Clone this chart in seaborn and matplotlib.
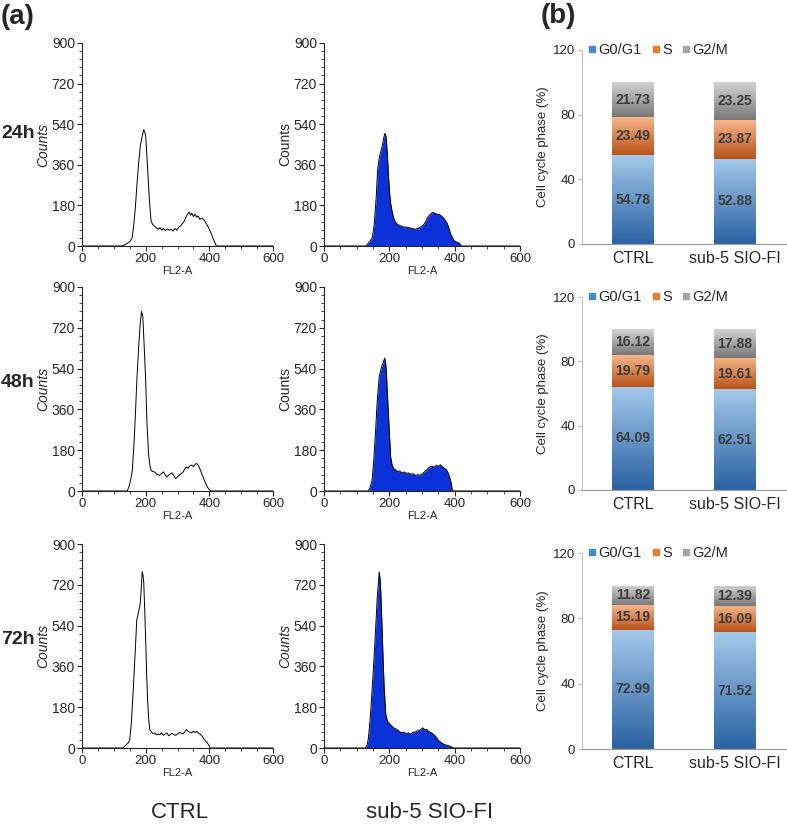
import numpy as np
import matplotlib
matplotlib.use("Agg")
import matplotlib.pyplot as plt
import seaborn as sns
from matplotlib.colors import LinearSegmentedColormap
from matplotlib.ticker import MultipleLocator
from matplotlib.lines import Line2D

# ---- flow cytometry histograms (FL2-A channel vs counts) ----
ctrl_24_x = [0, 125, 135, 145, 152, 158, 163, 167, 172, 178, 183, 188, 192, 194, 197, 200, 203, 207, 211, 214,
             217, 222, 228, 234, 239, 245, 250, 256, 262, 268, 274, 280, 286, 292, 298, 304, 310, 316, 322, 328,
             333, 337, 341, 345, 350, 355, 360, 365, 370, 375, 380, 385, 390, 395, 400, 405, 410, 415, 422, 600]
ctrl_24_y = [0, 0, 6, 14, 22, 40, 100, 160, 260, 369, 442, 480, 505, 516, 505, 490, 420, 320, 221, 160,
             111, 95, 88, 80, 74, 82, 70, 78, 68, 76, 70, 74, 66, 78, 70, 84, 90, 100, 112, 133,
             145, 150, 136, 146, 130, 142, 128, 133, 118, 122, 120, 112, 100, 88, 74, 58, 40, 22, 0, 0]

sio_24_x = [0, 128, 133, 140, 148, 154, 160, 164, 168, 172, 175, 179, 183, 186, 189, 191, 194, 197, 201, 204,
            208, 213, 219, 226, 235, 242, 250, 257, 264, 272, 279, 286, 293, 301, 308, 317, 325, 333, 340, 347,
            355, 362, 368, 372, 377, 382, 388, 394, 399, 405, 410, 415, 421, 600]
sio_24_y = [0, 0, 8, 20, 37, 100, 220, 335, 380, 410, 424, 450, 480, 499, 490, 469, 400, 320, 230, 190,
            156, 125, 104, 95, 89, 85, 84, 82, 80, 77, 74, 78, 82, 89, 100, 126, 140, 149, 145, 141,
            138, 130, 120, 112, 100, 80, 52, 35, 22, 18, 15, 12, 0, 0]

ctrl_48_x = [0, 142, 148, 153, 158, 163, 167, 172, 178, 183, 187, 191, 195, 200, 204, 209, 213, 217, 222, 228,
             234, 239, 244, 250, 256, 262, 267, 272, 278, 283, 289, 294, 300, 306, 311, 317, 322, 328, 333, 339,
             344, 350, 355, 361, 366, 372, 378, 383, 389, 395, 400, 406, 600]
ctrl_48_y = [0, 0, 20, 50, 90, 200, 313, 480, 637, 740, 792, 770, 650, 490, 300, 165, 115, 91, 86, 84,
             75, 72, 69, 78, 84, 70, 62, 70, 76, 80, 66, 55, 62, 70, 77, 82, 95, 106, 100, 112,
             114, 108, 118, 121, 112, 91, 70, 52, 32, 15, 6, 0, 0]

sio_48_x = [0, 136, 141, 147, 152, 158, 163, 169, 175, 180, 183, 186, 189, 191, 194, 197, 201, 204, 208, 213,
            220, 226, 232, 238, 245, 251, 258, 265, 272, 280, 287, 294, 302, 309, 316, 324, 331, 338, 344, 350,
            356, 363, 369, 374, 380, 386, 390, 393, 600]
sio_48_y = [0, 0, 15, 47, 130, 268, 400, 504, 540, 563, 575, 586, 560, 519, 430, 342, 230, 150, 118, 99,
            92, 84, 88, 80, 84, 78, 80, 74, 76, 69, 72, 70, 77, 86, 96, 106, 110, 104, 114, 108,
            116, 106, 100, 95, 80, 55, 30, 0, 0]

ctrl_72_x = [0, 128, 134, 139, 145, 150, 155, 161, 167, 172, 178, 183, 186, 189, 192, 194, 197, 200, 203, 206,
             210, 213, 218, 223, 228, 234, 239, 244, 250, 256, 261, 267, 272, 278, 283, 289, 294, 300, 306, 311,
             317, 322, 328, 333, 339, 344, 350, 355, 361, 367, 372, 378, 383, 389, 394, 399, 403, 600]
ctrl_72_y = [0, 0, 8, 15, 22, 37, 110, 257, 420, 565, 602, 639, 700, 778, 760, 727, 610, 477, 330, 213,
             120, 81, 70, 64, 66, 58, 62, 59, 66, 56, 62, 66, 54, 60, 64, 59, 56, 62, 68, 66,
             62, 70, 81, 74, 70, 66, 74, 68, 73, 64, 60, 51, 40, 30, 22, 10, 0, 0]

sio_72_x = [0, 127, 132, 136, 142, 147, 152, 156, 160, 163, 166, 169, 172, 174, 177, 180, 184, 189, 193, 197,
            205, 213, 220, 228, 236, 243, 251, 258, 265, 273, 280, 287, 295, 302, 306, 310, 315, 319, 325, 330,
            336, 342, 347, 353, 361, 369, 377, 385, 391, 397, 600]
sio_72_y = [0, 0, 15, 44, 140, 251, 370, 473, 580, 666, 720, 777, 740, 681, 560, 429, 270, 148, 125, 111,
            100, 89, 84, 76, 67, 70, 64, 67, 62, 70, 71, 76, 80, 89, 84, 80, 82, 74, 70, 66,
            59, 50, 40, 30, 22, 15, 12, 8, 4, 0, 0]

# ---- cell cycle phase distribution (%) ----
categories = ["CTRL", "sub-5 SIO-FI"]
phases = ["G0/G1", "S", "G2/M"]
g0g1_24 = [54.78, 52.88]
s_24 = [23.49, 23.87]
g2m_24 = [21.73, 23.25]
g0g1_48 = [64.09, 62.51]
s_48 = [19.79, 19.61]
g2m_48 = [16.12, 17.88]
g0g1_72 = [72.99, 71.52]
s_72 = [15.19, 16.09]
g2m_72 = [11.82, 12.39]

time_labels = ["24h", "48h", "72h"]

sns.set_style("ticks")
plt.rcParams["font.family"] = ["Liberation Sans", "DejaVu Sans"]

W, H = 787, 827
fig = plt.figure(figsize=(W / 100, H / 100), dpi=100)


def px_rect(left, top, right, bottom):
    return [left / W, 1 - bottom / H, (right - left) / W, (bottom - top) / H]


def px_text(x, y, s, **kw):
    fig.text(x / W, 1 - y / H, s, **kw)


SIO_BLUE = "#0a32d8"
# (bottom colour, top colour) of the gradient in each segment
GRADS = [("#2a62a2", "#a4c9eb"), ("#b9531a", "#f6b68b"), ("#787878", "#d3d3d3")]
LEG_COLS = ["#4a8bd0", "#ec7c31", "#a5a5a5"]


def draw_hist(ax, x, y, filled, italic):
    if filled:
        ax.fill_between(x, y, 0, color=SIO_BLUE, lw=0)
    sns.lineplot(x=x, y=y, ax=ax, color="black", lw=0.7)
    ax.set_xlim(0, 600)
    ax.set_ylim(0, 900)
    ax.set_xticks([0, 200, 400, 600])
    ax.set_yticks(range(0, 901, 180))
    ax.xaxis.set_minor_locator(MultipleLocator(50))
    ax.yaxis.set_minor_locator(MultipleLocator(36))
    ax.tick_params(which="major", length=3.5, width=0.8, labelsize=10, pad=1.5)
    ax.tick_params(which="minor", length=2, width=0.6)
    ax.tick_params(axis="x", labelsize=9.5)
    ax.set_xlabel("FL2-A", fontsize=8, labelpad=1)
    ax.set_ylabel("Counts", fontsize=10, style="italic" if italic else "normal", labelpad=1)
    sns.despine(ax=ax)
    for sp in ax.spines.values():
        sp.set_linewidth(0.8)


def gradient_fill(ax, patch, c_bot, c_top):
    cmap = LinearSegmentedColormap.from_list("grad", [c_bot, c_top])
    x, y = patch.get_x(), patch.get_y()
    w, h = patch.get_width(), patch.get_height()
    im = ax.imshow(np.linspace(0, 1, 128).reshape(-1, 1), cmap=cmap, origin="lower",
                   aspect="auto", extent=[x, x + w, y, y + h], zorder=2)
    im.set_clip_path(patch)
    patch.set_facecolor("none")
    patch.set_edgecolor("none")


def draw_bars(ax, g1, s, g2):
    bottoms = [[0, 0], g1, [a + b for a, b in zip(g1, s)]]
    for vals, bot, (cb, ct) in zip([g1, s, g2], bottoms, GRADS):
        n0 = len(ax.patches)
        sns.barplot(x=categories, y=vals, bottom=bot, ax=ax, width=0.41, color=ct,
                    errorbar=None)
        for p, v in zip(ax.patches[n0:], vals):
            gradient_fill(ax, p, cb, ct)
            ax.text(p.get_x() + p.get_width() / 2, p.get_y() + p.get_height() / 2,
                    f"{v:.2f}", ha="center", va="center", fontsize=10,
                    fontweight="bold", color="#3c3c3c", zorder=5)
    ax.set_xlim(-0.5, 1.5)
    ax.set_ylim(0, 120)
    ax.set_yticks([0, 40, 80, 120])
    ax.set_xlabel("")
    ax.set_ylabel("Cell cycle phase (%)", fontsize=9.5, labelpad=3)
    sns.despine(ax=ax)
    ax.spines["left"].set_color("#c0c0c0")
    ax.spines["bottom"].set_color("#a0a0a0")
    ax.spines["left"].set_linewidth(0.8)
    ax.spines["bottom"].set_linewidth(0.9)
    ax.tick_params(axis="y", length=3, color="#c0c0c0", labelsize=9.5, pad=2)
    ax.tick_params(axis="x", length=0, labelsize=11.5, pad=5)
    handles = [Line2D([], [], marker="s", ls="", color=c, markersize=5) for c in LEG_COLS]
    ax.legend(handles, phases, loc="center left", bbox_to_anchor=(0.03, 1.0), ncol=3,
              frameon=False, fontsize=10.5, handlelength=0.6, handletextpad=0.1,
              columnspacing=0.7, borderpad=0, borderaxespad=0)


hist_rows = [(43, 246), (287, 491), (544, 748)]
bar_rows = [(50, 244), (297, 490), (553, 749)]
hist_cols = [(82, 273), (324, 520)]

hist_data = [
    [(ctrl_24_x, ctrl_24_y), (sio_24_x, sio_24_y)],
    [(ctrl_48_x, ctrl_48_y), (sio_48_x, sio_48_y)],
    [(ctrl_72_x, ctrl_72_y), (sio_72_x, sio_72_y)],
]
bar_data = [(g0g1_24, s_24, g2m_24), (g0g1_48, s_48, g2m_48), (g0g1_72, s_72, g2m_72)]
row_label_y = [133, 382, 640]

for r in range(3):
    top, bot = hist_rows[r]
    for c in range(2):
        left, right = hist_cols[c]
        ax = fig.add_axes(px_rect(left, top, right, bot))
        hx, hy = hist_data[r][c]
        draw_hist(ax, hx, hy, filled=(c == 1), italic=(c == 0 or r == 2))
    btop, bbot = bar_rows[r]
    axb = fig.add_axes(px_rect(582, btop, 786, bbot))
    draw_bars(axb, *bar_data[r])
    px_text(18, row_label_y[r], time_labels[r], fontsize=14, fontweight="bold",
            ha="center", va="center")

px_text(1, 17, "(a)", fontsize=20, fontweight="bold", ha="left", va="center")
px_text(541, 16, "(b)", fontsize=20, fontweight="bold", ha="left", va="center")
px_text(180, 812, "CTRL", fontsize=16, ha="center", va="center")
px_text(430, 812, "sub-5 SIO-FI", fontsize=16, ha="center", va="center")

fig.savefig("out.png", dpi=100)
